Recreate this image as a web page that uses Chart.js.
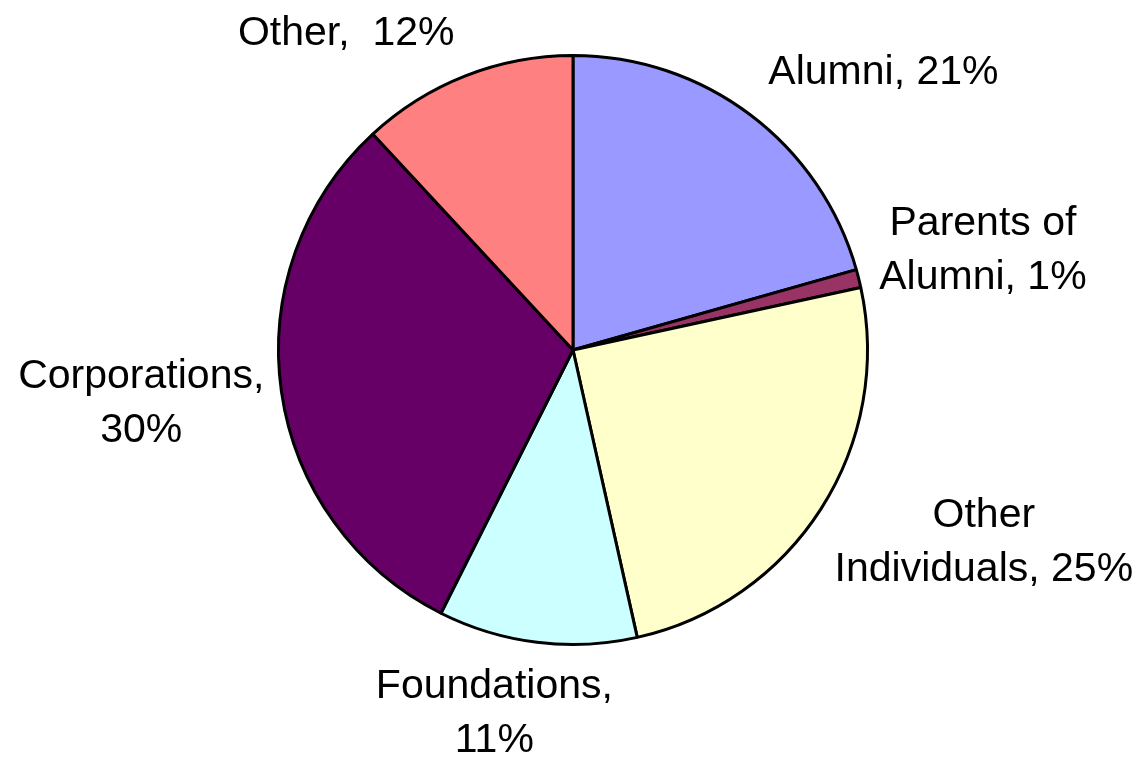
<!DOCTYPE html>
<html>
<head>
<meta charset="utf-8">
<script src="https://cdn.jsdelivr.net/npm/chart.js@4/dist/chart.umd.min.js"></script>
<style>
    html, body { margin: 0; padding: 0; background: #ffffff; }
    #wrap { width: 1142px; height: 757px; position: relative; }
</style>
</head>
<body>
<div id="wrap"><canvas id="giftChart"></canvas></div>
<script>
// --- DATA ---
const categories = ['Alumni', 'Parents of Alumni', 'Other Individuals', 'Foundations', 'Corporations', 'Other'];
const shares = [20.6, 1.0, 24.9, 10.9, 30.7, 11.9];
const shownPercents = ['21%', '1%', '25%', '11%', '30%', '12%']; // as printed on the chart
const labelLines = [
    ['Alumni, 21%'],
    ['Parents of', 'Alumni, 1%'],
    ['Other', 'Individuals, 25%'],
    ['Foundations,', '11%'],
    ['Corporations,', '30%'],
    ['Other,  12%']
];
const sliceColors = ['#9999FF', '#993366', '#FFFFCC', '#CCFFFF', '#660066', '#FF8080'];

// label anchor (centre x, first baseline) in units of the pie radius, from the pie centre
const labelOffsets = [
    [1.054, -0.902],
    [1.392, -0.389],
    [1.395, 0.601],
    [-0.267, 1.182],
    [-1.466, 0.128],
    [-0.770, -1.037]
];

// --- LABEL PLUGIN ---
const sliceLabels = {
    id: 'sliceLabels',
    afterDraw(chart) {
        const arc = chart.getDatasetMeta(0).data[0];
        if (!arc) return;
        const ctx = chart.ctx;
        const r = arc.outerRadius;
        ctx.save();
        ctx.font = '41px "Liberation Sans", Arial, sans-serif';
        ctx.fillStyle = '#000000';
        ctx.textAlign = 'center';
        ctx.textBaseline = 'alphabetic';
        labelLines.forEach((lines, i) => {
            const x = arc.x + labelOffsets[i][0] * r;
            const y = arc.y + labelOffsets[i][1] * r;
            lines.forEach((line, j) => ctx.fillText(line, x, y + j * 54));
        });
        ctx.restore();
    }
};

const ctx = document.getElementById('giftChart').getContext('2d');
new Chart(ctx, {
    type: 'pie',
    data: {
        labels: categories,
        datasets: [{
            data: shares,
            backgroundColor: sliceColors,
            borderColor: '#000000',
            borderWidth: 3
        }]
    },
    options: {
        responsive: true,
        maintainAspectRatio: false,
        animation: false,
        layout: { padding: { left: 4, right: 0, top: 54, bottom: 111 } },
        plugins: {
            legend: { display: false },
            tooltip: { enabled: false }
        }
    },
    plugins: [sliceLabels]
});
</script>
</body>
</html>
